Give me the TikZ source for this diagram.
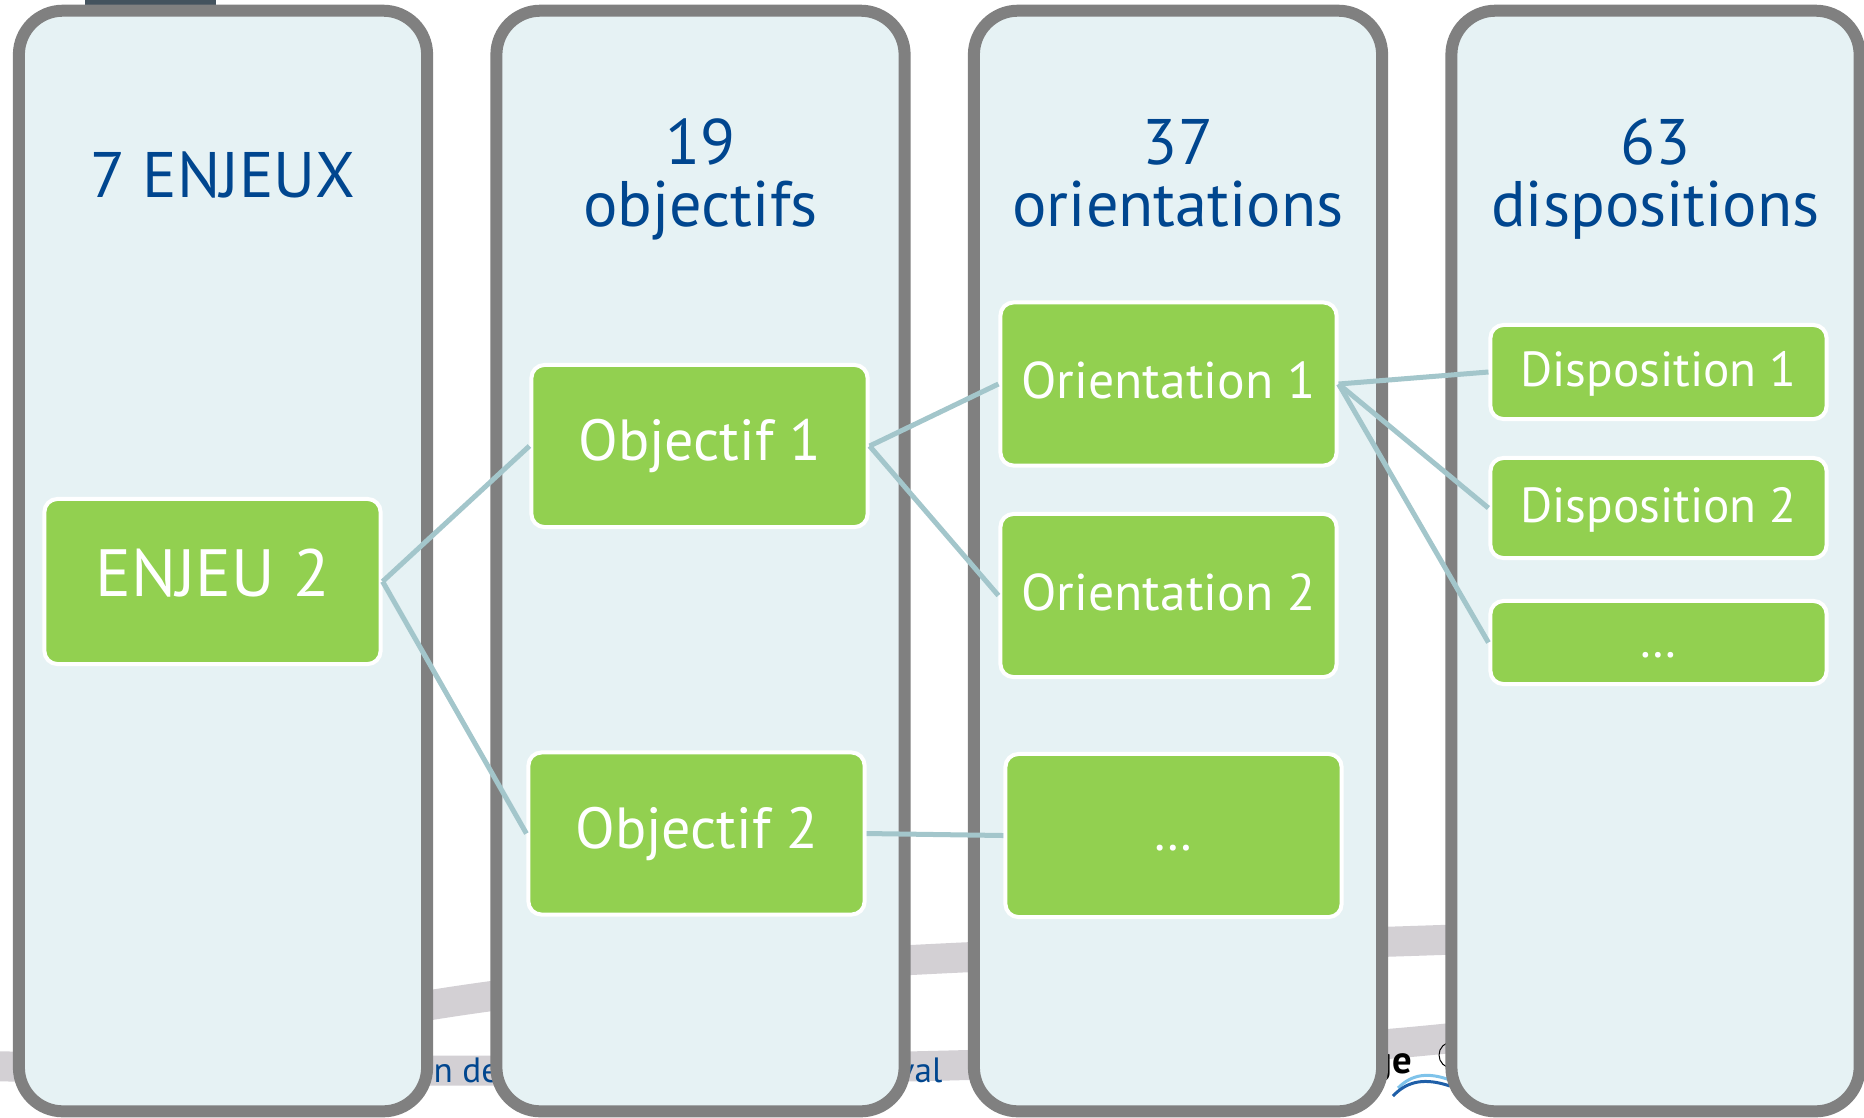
\documentclass[tikz,border=0pt]{standalone}
\usepackage{fontspec}
\setmainfont{PT Sans}
\definecolor{colFill}{HTML}{E6F2F4}
\definecolor{colBorder}{HTML}{808080}
\definecolor{boxGreen}{HTML}{92D050}
\definecolor{headBlue}{HTML}{00468F}
\definecolor{linkBlue}{HTML}{A3C6CB}
\definecolor{bandGray}{HTML}{D3D0D4}
\definecolor{slateDark}{HTML}{44535E}
\definecolor{logoBlue}{HTML}{1F5FA8}
\definecolor{logoLight}{HTML}{7FC3EA}

\begin{document}
\begin{tikzpicture}
[x=0.01cm, y=-0.01cm,%
  colDecorate/.style={shape=rectangle,rounded corners=0.44cm,draw=colBorder,fill=colFill,
    line width=0.12cm,minimum width=4.08cm,minimum height=11cm,inner sep=0pt},%
  boxDecorate/.style={shape=rectangle,rounded corners=0.13cm,draw=white,fill=boxGreen,
    line width=0.04cm,minimum width=3.36cm,text=white,inner sep=0pt,
    text height=0.85em,text depth=0pt},%
  headDecorate/.style={text=headBlue,font=\fontsize{18.3}{18}\selectfont,inner sep=0pt,anchor=base},%
  fragDecorate/.style={font=\fontsize{10}{12}\selectfont,inner sep=0pt},%
  lineDecorate/.style={-,draw=linkBlue,line width=0.05cm}]
\useasboundingbox (0,0) rectangle (1864,1117);
%% slide behind
\fill[slateDark] (85,0) rectangle (216,5);
\draw[bandGray,line width=0.3cm] (300,1030) .. controls (600,962) and (1000,955) .. (1500,938);
\draw[bandGray,line width=0.3cm] (-20,1066) .. controls (700,1078) and (1200,1066) .. (1470,1036);
\node[fragDecorate,text=headBlue,anchor=base west] (fragDe) at (433,1082) {n de};
\node[fragDecorate,text=headBlue,anchor=base east] (fragVal) at (943,1082) {val};
\node[fragDecorate,text=black,font=\fontsize{11}{13}\selectfont\bfseries,anchor=base east] (fragGe) at (1413,1073) {ge};
\draw[black,line width=0.01cm] (1452,1055) circle (0.13cm);
\draw[logoLight,line width=0.03cm] (1398,1088) .. controls (1412,1074) and (1428,1072) .. (1450,1080);
\draw[logoBlue,line width=0.03cm] (1393,1096) .. controls (1408,1080) and (1426,1078) .. (1450,1086);
%% columns
\foreach \nodename/\x in {colEnj/223, colObj/700.5, colOri/1178, colDis/1655.5}
{
  \node (\nodename) at (\x,561) [colDecorate] {};
}
%% headers
\node[headDecorate] (hEnj) at (223,197) {7 ENJEUX};
\foreach \nodename/\x/\num/\word in {
  Obj/700.5/19/objectifs, Ori/1178/37/orientations, Dis/1655.5/63/dispositions}
{
  \node[headDecorate] (n\nodename) at (\x,164) {\num};
  \node[headDecorate] (h\nodename) at (\x,226) {\word};
}
%% boxes
\node (enjeu2) at (212.5,581.5) [boxDecorate,minimum height=1.65cm,
  font=\fontsize{19}{23}\selectfont] {ENJEU 2};
\foreach \nodename/\x/\y/\label in {
  obj1/699.5/446/Objectif 1, obj2/696.5/833.5/Objectif 2}
{
  \node (\nodename) at (\x,\y) [boxDecorate,minimum height=1.62cm,
    font=\fontsize{16.5}{20}\selectfont] {\label};
}
\foreach \nodename/\x/\y/\label in {
  or1/1168.5/384/Orientation 1, or2/1168.5/595.5/Orientation 2, orEtc/1173.5/835.5/…}
{
  \node (\nodename) at (\x,\y) [boxDecorate,minimum height=1.63cm,
    font=\fontsize{14.7}{18}\selectfont] {\label};
}
\foreach \nodename/\y/\h/\label in {
  dis1/372/0.94/Disposition 1, dis2/508/1.0/Disposition 2, disEtc/642.5/0.83/…}
{
  \node (\nodename) at (1658.5,\y) [boxDecorate,minimum height=\h cm,
    font=\fontsize{14}{17}\selectfont] {\label};
}
%% links
\path
\foreach \startnode/\endnode in {
  enjeu2/obj1, enjeu2/obj2, obj1/or1, obj1/or2, obj2/orEtc,
  or1/dis1, or1/dis2, or1/disEtc}
{
  (\startnode.east) edge[lineDecorate] (\endnode.west)
};
\end{tikzpicture}
\end{document}
